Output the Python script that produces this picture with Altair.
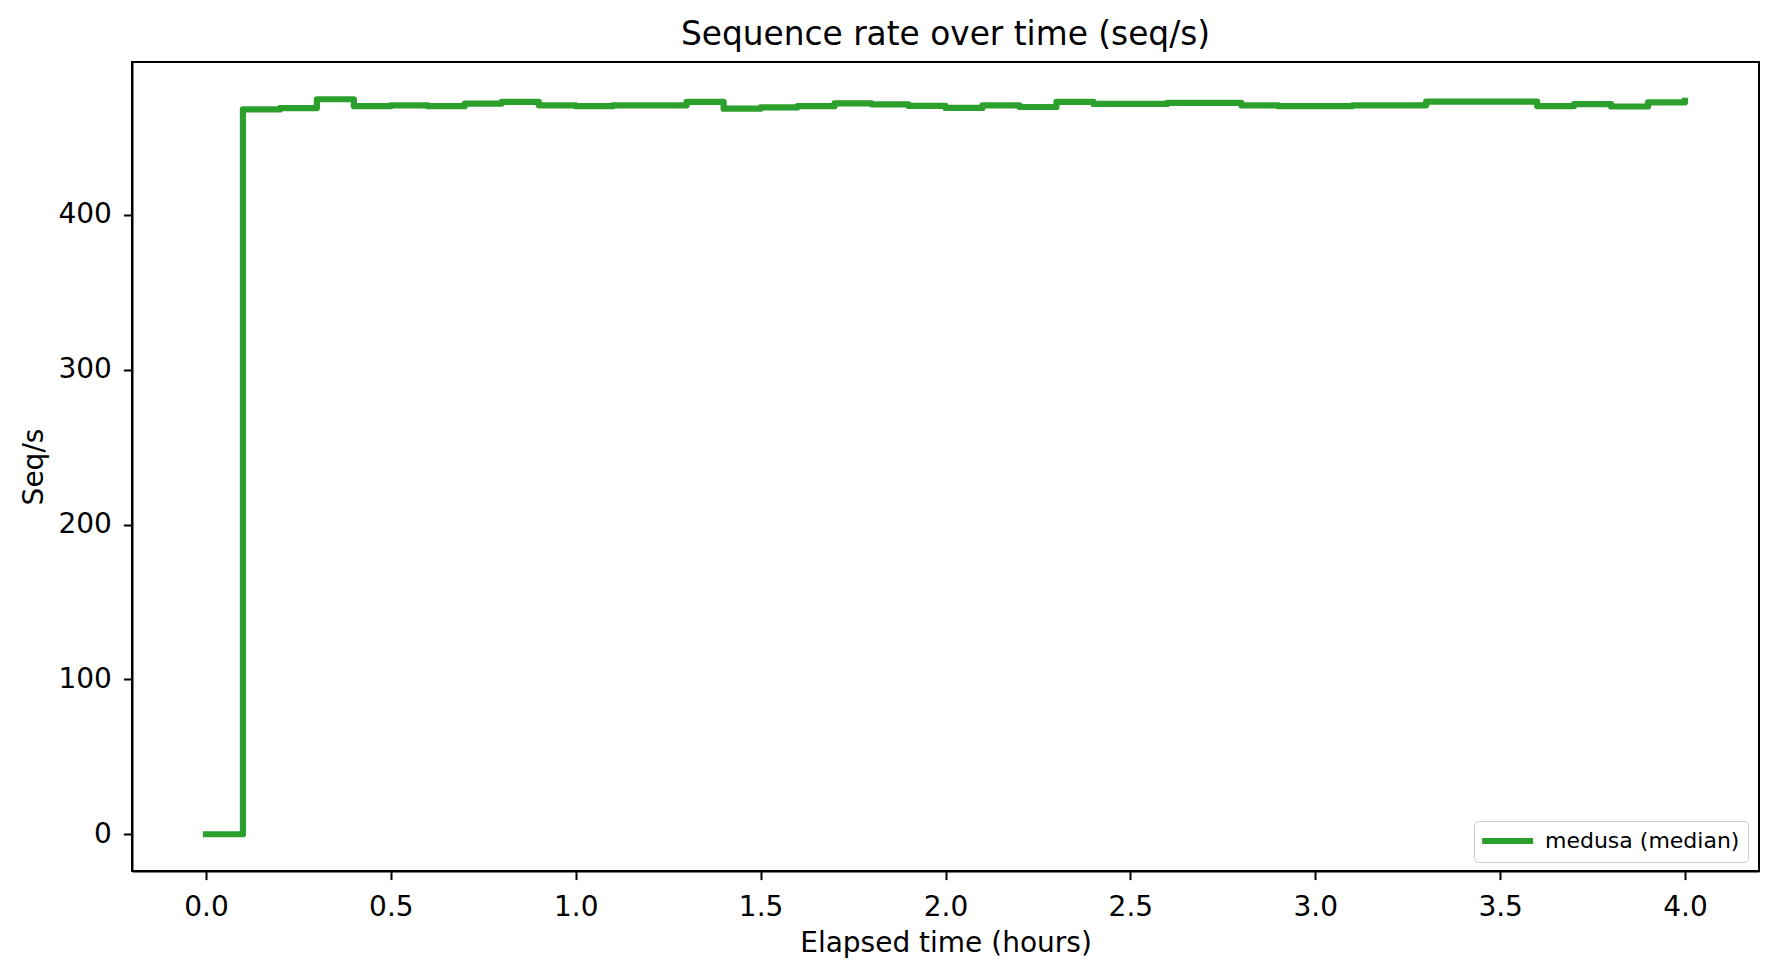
import altair as alt
import pandas as pd

SERIES_NAME = "medusa (median)"
LINE_COLOR = "#2ca02c"
FONT = "DejaVu Sans"

hours = [
    0.0, 0.1, 0.2, 0.3, 0.4, 0.5, 0.6, 0.7, 0.8, 0.9,
    1.0, 1.1, 1.2, 1.3, 1.4, 1.5, 1.6, 1.7, 1.8, 1.9,
    2.0, 2.1, 2.2, 2.3, 2.4, 2.5, 2.6, 2.7, 2.8, 2.9,
    3.0, 3.1, 3.2, 3.3, 3.4, 3.5, 3.6, 3.7, 3.8, 3.9,
    4.0,
]
seq_per_s = [
    0.0, 468.1, 469.0, 474.7, 470.2, 470.8, 470.2, 471.9, 473.0, 470.8,
    470.2, 470.8, 470.8, 473.0, 468.6, 469.5, 470.2, 472.0, 471.4, 470.4,
    469.1, 470.8, 469.7, 473.0, 471.7, 471.7, 472.3, 472.3, 470.8, 470.2,
    470.2, 470.8, 470.8, 473.1, 473.1, 473.1, 470.3, 471.6, 470.0, 472.7,
    473.6,
]
x_ticks = [0.0, 0.5, 1.0, 1.5, 2.0, 2.5, 3.0, 3.5, 4.0]
y_ticks = [0, 100, 200, 300, 400]

frame = pd.DataFrame({"hours": hours, "rate": seq_per_s, "series": SERIES_NAME})

PLOT_W = 1627
PLOT_H = 809

# legend swatch: a long line starting near the symbol cell's left edge
SWATCH_PATH = "M-1.4,0H4.6"

line = (
    alt.Chart(frame)
    .mark_line(
        interpolate="step-after", strokeWidth=6.2, strokeJoin="round", strokeCap="square"
    )
    .encode(
        x=alt.X(
            "hours:Q",
            scale=alt.Scale(domain=[-0.2, 4.2], nice=False, zero=False),
            axis=alt.Axis(
                title="Elapsed time (hours)",
                values=x_ticks,
                format=".1f",
                labelBaseline="alphabetic",
                labelPadding=36,
                titleBaseline="alphabetic",
                titleY=80.5,
            ),
        ),
        y=alt.Y(
            "rate:Q",
            scale=alt.Scale(domain=[-23.75, 498.75], nice=False, zero=False),
            axis=alt.Axis(
                title="Seq/s",
                values=y_ticks,
                format="d",
                labelBaseline="middle",
                labelPadding=12,
                titleAngle=270,
                titleAlign="center",
                titleBaseline="alphabetic",
                titleX=-90,
                titleY=PLOT_H / 2,
            ),
        ),
        color=alt.Color(
            "series:N",
            scale=alt.Scale(domain=[SERIES_NAME], range=[LINE_COLOR]),
            legend=alt.Legend(
                title=None,
                orient="none",
                legendX=1342,
                legendY=759,
                padding=8,
                fillColor="white",
                strokeColor="#cccccc",
                cornerRadius=4,
                symbolType=SWATCH_PATH,
                symbolSize=289,
                symbolStrokeWidth=6.2,
                labelOffset=39,
                labelLimit=400,
                labelFont=FONT,
                labelFontSize=22,
                labelColor="black",
            ),
        ),
    )
)

chart = (
    line.properties(
        width=PLOT_W,
        height=PLOT_H,
        title=alt.TitleParams(
            "Sequence rate over time (seq/s)",
            font=FONT,
            fontSize=32.8,
            fontWeight="normal",
            color="black",
            anchor="middle",
            frame="group",
            baseline="top",
            offset=10,
        ),
        autosize=alt.AutoSizeParams(type="none"),
        padding={"left": 124, "top": 54, "right": 10, "bottom": 95},
    )
    .configure_view(stroke="black", strokeWidth=2)
    .configure_axis(
        grid=False,
        domainColor="black",
        domainWidth=2,
        tickColor="black",
        tickWidth=2,
        tickSize=8.6,
        labelFont=FONT,
        labelFontSize=28,
        labelColor="black",
        titleFont=FONT,
        titleFontSize=28,
        titleFontWeight="normal",
        titleColor="black",
    )
)

chart.save("out.html", embed_options={"renderer": "svg", "actions": False})
